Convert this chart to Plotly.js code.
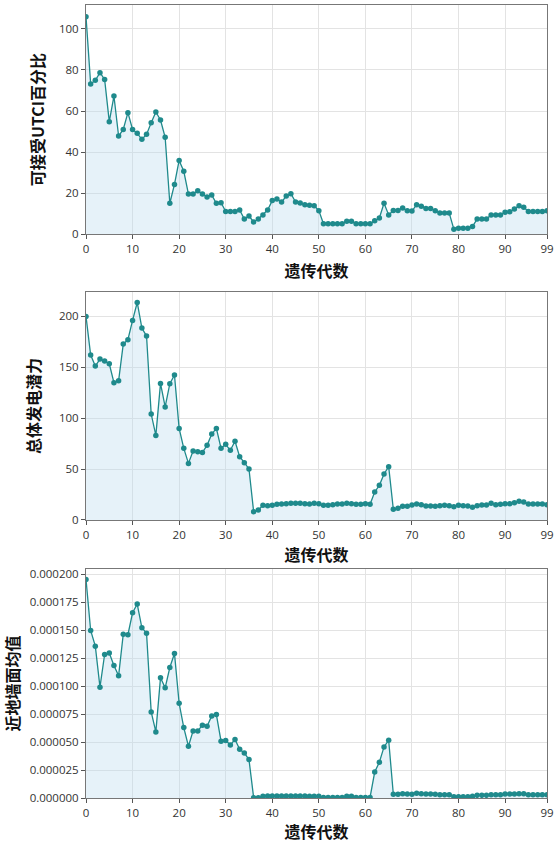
<!DOCTYPE html>
<html>
<head>
<meta charset="utf-8">
<script src="https://cdn.plot.ly/plotly-3.0.1.min.js"></script>
<style>
  html, body { margin: 0; padding: 0; background: #ffffff; }
  #chart { width: 556px; height: 843px; }
</style>
</head>
<body>
<div id="chart"></div>
<script>
// Generation index 0..99
const generations = Array.from({length: 100}, (_, i) => i);

// Acceptable UTC share (%) per generation
const utcPercent = [
  106, 73.2, 75, 78.7, 75.4, 54.8, 67.3, 47.8, 51, 59.2,
  51, 49.1, 46.2, 48.6, 54.3, 59.5, 55.6, 47.2, 15, 24.2,
  35.9, 30.6, 19.5, 19.5, 21.1, 19.5, 18, 19, 15, 15.3,
  11, 11, 11, 11.7, 7.3, 8.8, 5.9, 7.3, 9.3, 11.7,
  16.3, 17.1, 15.6, 18.5, 19.7, 15.6, 15.1, 14.3, 14, 13.8,
  11.4, 5, 5, 5, 5, 5, 6.2, 6.2, 5, 5,
  5, 5, 6.5, 7.8, 15, 9.3, 11.5, 11.5, 12.7, 11.4,
  11.2, 14.3, 13.5, 12.5, 12.5, 11.4, 10.2, 10.2, 10.2, 2.3,
  2.8, 2.8, 2.8, 3.7, 7.3, 7.3, 7.3, 9.3, 9.3, 9.3,
  10.6, 10.9, 12.2, 13.8, 13, 11, 11, 11, 11, 11.4
];

// Total power generation potential per generation
const powerPotential = [
  200, 162, 151.2, 158.1, 156.1, 153.5, 134.9, 136.8, 172.8, 177.1,
  196.1, 213.7, 188.5, 180.7, 104.1, 83.1, 134.2, 111, 133.9, 142.4,
  90, 70.4, 55.6, 67.8, 67.1, 66.4, 73.3, 84.5, 90, 70.4,
  74.3, 68.4, 77.3, 62.2, 56.3, 50.1, 8.2, 9.8, 14.4, 14.1,
  14.4, 15.4, 15.7, 16, 16.4, 16.4, 16.4, 16, 15.7, 16.4,
  16, 14.4, 14.4, 15, 15.7, 15.7, 16.4, 16, 15.4, 15.4,
  16, 15.4, 27.5, 34, 45.2, 52.4, 10.5, 11.5, 13.4, 13.4,
  14.7, 15.7, 15, 13.7, 13.7, 13.4, 14.1, 14.4, 14.1, 13.1,
  14.4, 14.1, 13.7, 12.4, 14.1, 14.7, 14.7, 16.4, 15, 15.4,
  16, 16, 17, 18.3, 17.7, 15.7, 15.7, 15.7, 15.7, 15
];

// Mean value near ground-level walls per generation
const wallMean = [
  0.0001952, 0.0001496, 0.0001356, 0.0000990, 0.0001282, 0.0001294, 0.0001183, 0.0001091, 0.0001463, 0.0001458,
  0.0001654, 0.0001732, 0.0001520, 0.0001472, 0.0000769, 0.0000590, 0.0001073, 0.0000984, 0.0001165, 0.0001291,
  0.0000846, 0.0000629, 0.0000462, 0.0000599, 0.0000599, 0.0000650, 0.0000641, 0.0000733, 0.0000745, 0.0000507,
  0.0000513, 0.0000474, 0.0000522, 0.0000435, 0.0000402, 0.0000343, 0.0000003, 0.0000003, 0.0000015, 0.0000018,
  0.0000018, 0.0000018, 0.0000018, 0.0000018, 0.0000018, 0.0000018, 0.0000018, 0.0000018, 0.0000015, 0.0000015,
  0.0000015, 0.0000005, 0.0000005, 0.0000005, 0.0000005, 0.0000005, 0.0000015, 0.0000015, 0.0000005, 0.0000005,
  0.0000005, 0.0000005, 0.0000232, 0.0000319, 0.0000456, 0.0000516, 0.0000033, 0.0000033, 0.0000039, 0.0000036,
  0.0000033, 0.0000042, 0.0000039, 0.0000036, 0.0000036, 0.0000033, 0.0000030, 0.0000030, 0.0000030, 0.0000012,
  0.0000012, 0.0000012, 0.0000012, 0.0000015, 0.0000024, 0.0000024, 0.0000024, 0.0000030, 0.0000030, 0.0000030,
  0.0000036, 0.0000036, 0.0000036, 0.0000039, 0.0000039, 0.0000030, 0.0000030, 0.0000030, 0.0000030, 0.0000030
];

const xTickVals = [0, 10, 20, 30, 40, 50, 60, 70, 80, 90, 99];
const xTitle = '遗传代数';
const yTitles = ['可接受UTCI百分比', '总体发电潜力', '近地墙面均值'];

const lineColor = '#1f8a8c';
const fillColor = 'rgba(190, 222, 238, 0.38)';
const cjkFont = '"Noto Sans CJK SC", "Noto Sans", sans-serif';
const tickFont = { family: '"Open Sans", "Noto Sans", sans-serif', size: 11.5, color: '#333' };

function series(y, xa, ya) {
  return {
    x: generations, y: y, xaxis: xa, yaxis: ya,
    type: 'scatter', mode: 'lines+markers',
    line: { color: lineColor, width: 1.3 },
    marker: { color: lineColor, size: 5.5 },
    fill: 'tozeroy', fillcolor: fillColor,
    showlegend: false, hoverinfo: 'x+y'
  };
}

function xAxis(anchor, standoff) {
  return {
    anchor: anchor, domain: [0, 1], range: [0, 99],
    tickvals: xTickVals, ticks: 'outside', ticklen: 4, tickcolor: '#555',
    showline: true, linecolor: '#777', linewidth: 1, mirror: true,
    showgrid: true, gridcolor: '#e3e3e3', gridwidth: 1, zeroline: false,
    tickfont: tickFont,
    title: { text: xTitle, font: { family: cjkFont, size: 16, color: '#111', weight: 'bold' }, standoff: standoff }
  };
}

function yAxis(anchor, domain, range, title, standoff, extra) {
  return Object.assign({
    anchor: anchor, domain: domain, range: range,
    ticks: 'outside', ticklen: 4, tickcolor: '#555',
    showline: true, linecolor: '#777', linewidth: 1, mirror: true,
    showgrid: true, gridcolor: '#e3e3e3', gridwidth: 1, zeroline: false,
    tickfont: tickFont,
    title: { text: title, font: { family: cjkFont, size: 16, color: '#111', weight: 'bold' }, standoff: standoff }
  }, extra || {});
}

const data = [
  series(utcPercent, 'x', 'y'),
  series(powerPotential, 'x2', 'y2'),
  series(wallMean, 'x3', 'y3')
];

const layout = {
  width: 556, height: 843,
  margin: { l: 86, r: 9, t: 5, b: 45 },
  paper_bgcolor: '#ffffff', plot_bgcolor: '#ffffff',
  font: tickFont,
  xaxis: xAxis('y', 10),
  yaxis: yAxis('x', [0.7112, 1], [0, 111.7], yTitles[0], 10, { tickvals: [0, 20, 40, 60, 80, 100] }),
  xaxis2: xAxis('y2', 0),
  yaxis2: yAxis('x2', [0.3506, 0.6381], [0, 224], yTitles[1], 14, { tickvals: [0, 50, 100, 150, 200] }),
  xaxis3: xAxis('y3', 7),
  yaxis3: yAxis('x3', [0, 0.2888], [0, 0.0002045], yTitles[2], 7, {
    tickvals: [0, 0.000025, 0.00005, 0.000075, 0.0001, 0.000125, 0.00015, 0.000175, 0.0002],
    tickformat: '.6f'
  })
};

Plotly.newPlot('chart', data, layout, { displayModeBar: false, staticPlot: true });
</script>
</body>
</html>
